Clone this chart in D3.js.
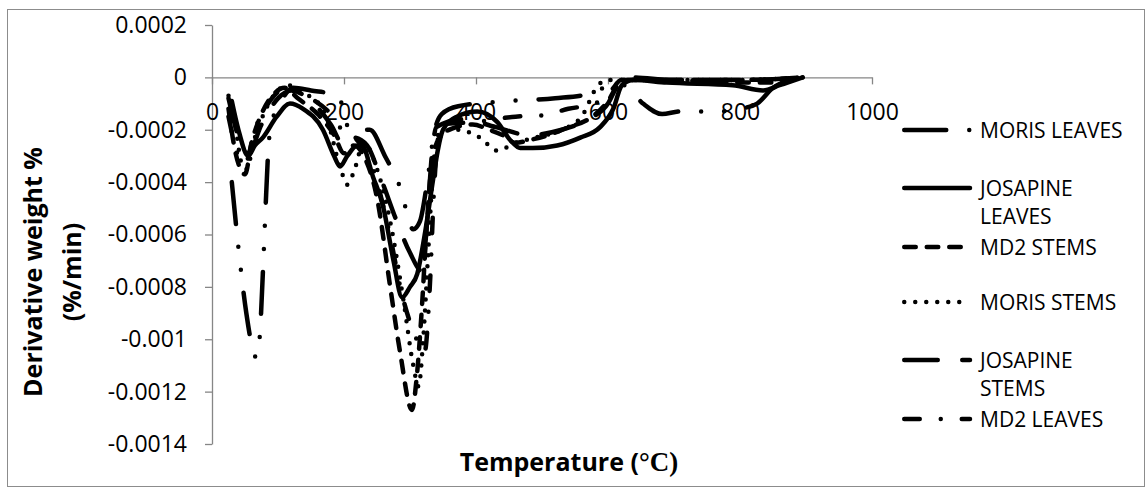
<!DOCTYPE html>
<meta charset="utf-8">
<html>
<head>
<title>DTG curves</title>
<style>
  body { margin: 0; background: #fff; }
  text { font-family: "Open Sans", sans-serif; fill: #000; }
</style>
</head>
<body>
<svg width="1146" height="489"></svg>
<script src="https://d3js.org/d3.v7.min.js"></script>
<script>

// temperature (C), derivative weight (%/min)
var morisLeaves = [[30,-0.00040],[40,-0.00065],[52,-0.00090],[62,-0.00104],[67,-0.00107],[72,-0.00100],[77,-0.00075],[82,-0.00045],[86,-0.00025],[92,-0.00016],[105,-0.00009],[123,-0.00004],[150,-0.00005],[191,-0.00007],[209,-0.00020],[239,-0.00020],[262,-0.00030],[285,-0.00042],[305,-0.00058],[315,-0.00055],[326,-0.00040],[336,-0.00022],[348,-0.00014],[373,-0.00011],[452,-0.00009],[520,-0.00008],[577,-0.00006],[605,-0.00003],[625,-0.00003],[653,-0.00010],[682,-0.00014],[709,-0.00013],[765,-0.00013],[800,-0.00012],[826,-0.00010],[850,-0.00004],[895,0]];

var josapineLeaves = [[30,-0.00009],[40,-0.00020],[55,-0.00030],[65,-0.00026],[77,-0.00023],[98,-0.00015],[118,-0.00010],[138,-0.00012],[168,-0.00020],[185,-0.00030],[194,-0.00034],[205,-0.00030],[220,-0.00026],[227,-0.00026],[244,-0.00038],[259,-0.00049],[275,-0.00070],[288,-0.00084],[300,-0.00080],[311,-0.00075],[323,-0.00059],[335,-0.00039],[342,-0.00028],[350,-0.00020],[371,-0.00015],[402,-0.00013],[432,-0.00017],[452,-0.00024],[467,-0.00027],[486,-0.00027],[523,-0.00026],[558,-0.00023],[588,-0.00019],[608,-0.00012],[621,-0.00003],[638,-0.00001],[689,-0.00002],[789,-0.00003],[835,-0.00005],[860,-0.00003],[895,0]];

var md2Stems = [[25,-0.00012],[35,-0.00028],[50,-0.00037],[60,-0.00025],[75,-0.00014],[95,-0.00006],[110,-0.00004],[130,-0.00008],[160,-0.00014],[185,-0.00022],[200,-0.00029],[215,-0.00026],[230,-0.00030],[250,-0.00046],[270,-0.00080],[285,-0.00105],[303,-0.00127],[310,-0.00115],[318,-0.00088],[325,-0.00058],[333,-0.00033],[345,-0.00023],[370,-0.00019],[395,-0.00018],[420,-0.00020],[440,-0.00022],[460,-0.00025],[480,-0.00024],[510,-0.00022],[540,-0.00019],[570,-0.00016],[600,-0.00009],[615,-0.00003],[630,-0.00001],[700,-0.00001],[790,-0.00002],[850,-0.00002],[895,0]];

var morisStems = [[25,-0.00007],[35,-0.00018],[45,-0.00033],[52,-0.00035],[65,-0.00023],[80,-0.00013],[100,-0.00005],[115,-0.00003],[140,-0.00006],[170,-0.00013],[195,-0.00035],[205,-0.00041],[215,-0.00036],[230,-0.00025],[250,-0.00035],[270,-0.00055],[290,-0.00085],[305,-0.00110],[313,-0.00118],[320,-0.00100],[328,-0.00065],[335,-0.00035],[345,-0.00021],[370,-0.00020],[406,-0.00023],[432,-0.00028],[460,-0.00025],[490,-0.00023],[530,-0.00020],[560,-0.00015],[585,-0.00003],[600,-0.00001],[700,-0.00001],[800,-0.00001],[895,0]];

var josapineStems = [[25,-0.00008],[45,-0.00026],[55,-0.00029],[75,-0.00018],[100,-0.00008],[120,-0.00005],[150,-0.00009],[180,-0.00018],[200,-0.00026],[215,-0.00023],[235,-0.00026],[255,-0.00038],[280,-0.00055],[300,-0.00067],[318,-0.00074],[326,-0.00055],[333,-0.00030],[340,-0.00019],[380,-0.00016],[430,-0.00019],[480,-0.00022],[530,-0.00020],[570,-0.00016],[600,-0.00010],[615,-0.00003],[635,0],[700,-0.00001],[800,-0.00001],[895,0]];

var md2Leaves = [[25,-0.00015],[40,-0.00030],[50,-0.00033],[65,-0.00020],[85,-0.00010],[105,-0.00005],[120,-0.000045],[150,-0.00008],[180,-0.00014],[200,-0.00021],[220,-0.00024],[240,-0.00032],[265,-0.00055],[290,-0.00085],[310,-0.00100],[322,-0.00105],[330,-0.00080],[336,-0.00045],[342,-0.00024],[350,-0.00018],[400,-0.00017],[460,-0.00015],[500,-0.000145],[540,-0.00012],[580,-0.00010],[605,-0.00005],[620,-0.00001],[700,-0.00001],[800,-0.00001],[895,0]];

var seriesNames = ["MORIS LEAVES", "JOSAPINE LEAVES", "MD2 STEMS", "MORIS STEMS", "JOSAPINE STEMS", "MD2 LEAVES"];
var seriesData = [morisLeaves, josapineLeaves, md2Stems, morisStems, josapineStems, md2Leaves];
var dashes = ["42,23,0,23,0,23", null, "11.5,11", "0,11", "33.5,24.5", "15.5,21,0,21"];

var xTicks = [0, 200, 400, 600, 800, 1000];
var yTicks = [0.0002, 0, -0.0002, -0.0004, -0.0006, -0.0008, -0.001, -0.0012, -0.0014];
var yTickLabels = ["0.0002", "0", "-0.0002", "-0.0004", "-0.0006", "-0.0008", "-0.001", "-0.0012", "-0.0014"];

var svg = d3.select("svg");
var axisGrey = "#868686";

svg.append("rect")
    .attr("x", 7.5).attr("y", 9.5)
    .attr("width", 1137).attr("height", 477)
    .attr("fill", "none").attr("stroke", "#8c8c8c");

var x = d3.scaleLinear().domain([0, 1000]).range([212, 872]);
var y = d3.scaleLinear().domain([-0.0014, 0.0002]).range([444, 25]);

var yAxis = svg.append("g")
    .attr("transform", "translate(212,0)")
    .call(d3.axisLeft(y).tickValues(yTicks).tickSizeInner(7).tickSizeOuter(0).tickPadding(18)
        .tickFormat(function(d, i) { return yTickLabels[i]; }));

var xAxis = svg.append("g")
    .attr("transform", "translate(0," + y(0) + ")")
    .call(d3.axisBottom(x).tickValues(xTicks).tickSizeInner(7).tickSizeOuter(0).tickPadding(19)
        .tickFormat(d3.format("d")));

[yAxis, xAxis].forEach(function(g) {
    g.select(".domain").attr("stroke", axisGrey).attr("stroke-width", 1.3);
    g.selectAll(".tick line").attr("stroke", axisGrey).attr("stroke-width", 1.3);
    g.selectAll(".tick text").attr("font-family", "Open Sans").attr("font-size", 23).attr("fill", "#000");
});

var line = d3.line()
    .x(function(d) { return x(d[0]); })
    .y(function(d) { return y(d[1]); })
    .curve(d3.curveMonotoneX);

seriesData.forEach(function(s, i) {
    svg.append("path")
        .datum(s)
        .attr("d", line)
        .attr("fill", "none")
        .attr("stroke", "#000")
        .attr("stroke-width", 4.5)
        .attr("stroke-linecap", "round")
        .attr("stroke-linejoin", "round")
        .attr("stroke-dasharray", dashes[i]);
});

// legend
var legendRows = [130, 188, 247, 302, 360, 419];
var legendLines = [["MORIS LEAVES"], ["JOSAPINE", "LEAVES"], ["MD2 STEMS"], ["MORIS STEMS"], ["JOSAPINE", "STEMS"], ["MD2 LEAVES"]];
var legend = svg.append("g");
seriesNames.forEach(function(name, i) {
    var yy = legendRows[i];
    legend.append("path")
        .attr("d", "M904.25," + yy + "H970")
        .attr("stroke", "#000")
        .attr("stroke-width", 4.5)
        .attr("stroke-linecap", "round")
        .attr("stroke-dasharray", dashes[i]);
    var t = legend.append("text")
        .attr("x", 980).attr("y", yy + 8)
        .attr("font-size", 21);
    legendLines[i].forEach(function(l, k) {
        t.append("tspan").attr("x", 980).attr("dy", k == 0 ? 0 : 28).text(l);
    });
});

// axis titles
var yt = svg.append("g").attr("transform", "translate(42,272) rotate(-90)");
yt.append("text").attr("text-anchor", "middle").attr("font-weight", "bold").attr("font-size", 25)
    .text("Derivative weight %");
yt.append("text").attr("text-anchor", "middle").attr("font-weight", "bold").attr("font-size", 25)
    .attr("y", 39).text("(%/min)");

var xt = svg.append("text").attr("x", 569).attr("y", 471).attr("text-anchor", "middle")
    .attr("font-weight", "bold").attr("font-size", 25);
xt.append("tspan").text("Temperature (");
xt.append("tspan").attr("font-family", "Liberation Serif").attr("font-size", 27).text("°C)");

</script>
</body>
</html>
